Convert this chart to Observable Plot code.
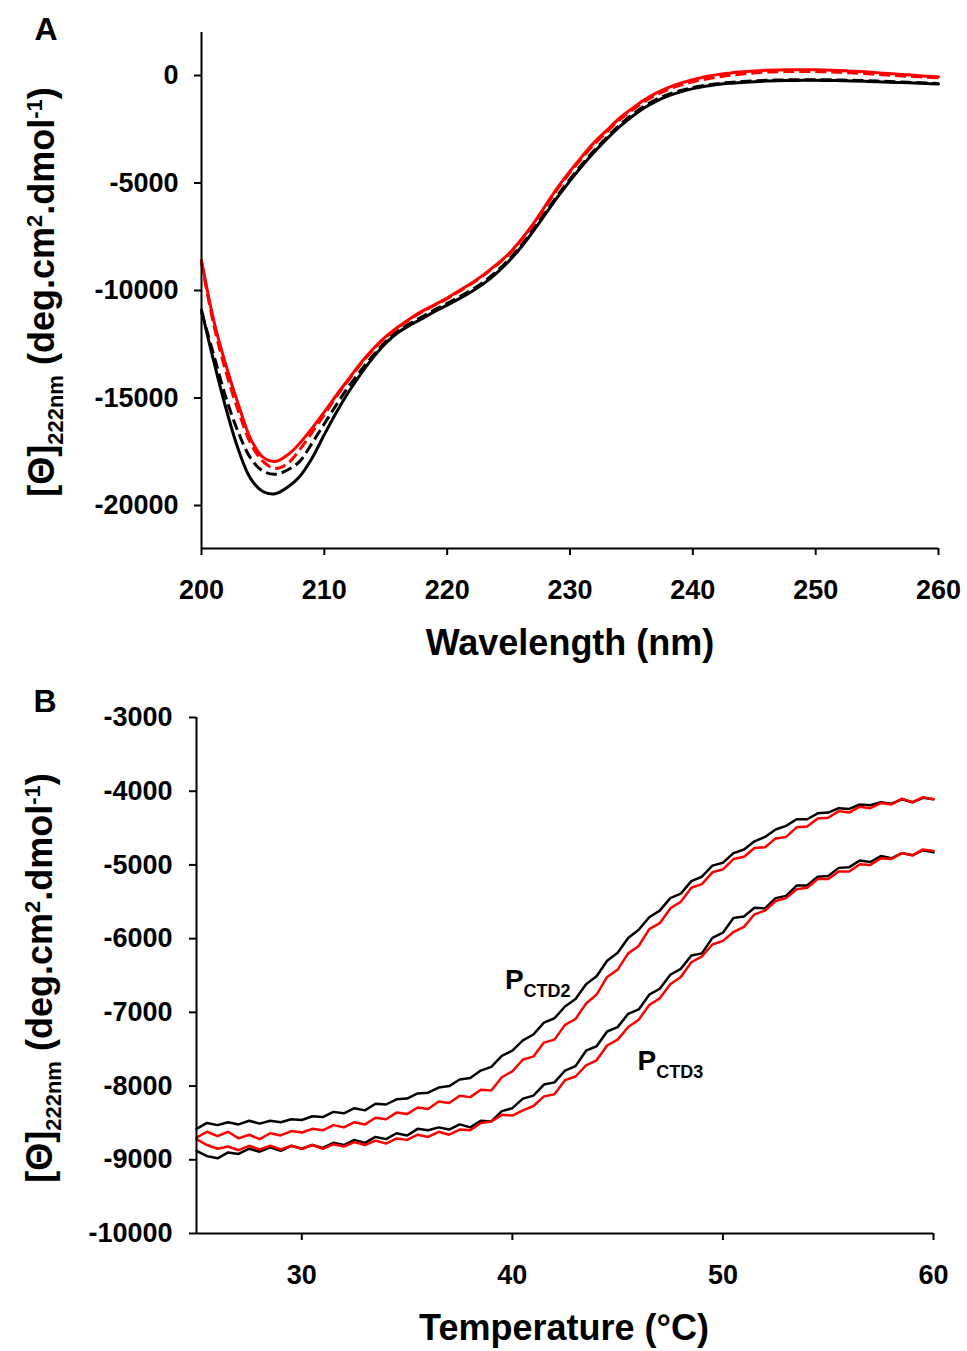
<!DOCTYPE html>
<html>
<head>
<meta charset="utf-8">
<script src="https://cdn.jsdelivr.net/npm/d3@7"></script>
<script src="https://cdn.jsdelivr.net/npm/@observablehq/plot@0.6"></script>
<style>
  body { margin: 0; background: #fff; }
  #wrap { position: relative; width: 967px; height: 1351px; background: #fff; }
  #panelA, #panelB { position: absolute; left: 0; }
  #panelA { top: 0; }
  #panelB { top: 680px; }
</style>
</head>
<body>
<div id="wrap"><div id="panelA"></div><div id="panelB"></div></div>
<script>
// ---------- Panel A data: CD spectra ----------
const wavelength = [200,201,202,203,204,205,206,207,208,209,210,211,212,213,214,215,216,217,218,219,220,
  221,222,223,224,225,226,227,228,229,230,231,232,233,234,235,236,237,238,239,240,
  241,242,243,244,245,246,247,248,249,250,251,252,253,254,255,256,257,258,259,260];
const blackSolid = [-10900,-13300,-15500,-17400,-18750,-19350,-19450,-19150,-18650,-17800,-16700,
  -15650,-14700,-13850,-13100,-12450,-11950,-11600,-11300,-10970,-10680,
  -10380,-10050,-9670,-9200,-8650,-8000,-7250,-6450,-5650,-4900,
  -4200,-3550,-2950,-2400,-1930,-1520,-1200,-950,-760,-610,
  -500,-420,-360,-320,-290,-260,-240,-230,-225,-225,
  -230,-240,-255,-270,-290,-310,-330,-350,-375,-400];
const blackDashed = [-11000,-13000,-15000,-16600,-17800,-18400,-18550,-18350,-17950,-17100,-16200,
  -15300,-14450,-13700,-13000,-12380,-11880,-11520,-11210,-10890,-10600,
  -10300,-9970,-9590,-9120,-8570,-7920,-7170,-6370,-5570,-4820,
  -4120,-3470,-2870,-2320,-1850,-1440,-1120,-880,-700,-560,
  -460,-380,-320,-280,-250,-225,-210,-200,-195,-195,
  -200,-210,-225,-240,-260,-280,-300,-325,-350,-375];
const redSolid = [-8600,-11400,-13500,-15300,-16900,-17750,-17950,-17650,-17100,-16400,-15650,
  -14850,-14100,-13350,-12700,-12150,-11700,-11300,-10950,-10650,-10350,
  -10000,-9650,-9250,-8800,-8300,-7650,-6900,-6050,-5200,-4450,
  -3750,-3100,-2550,-2000,-1560,-1150,-820,-560,-360,-200,
  -60,40,110,170,210,240,260,270,270,265,
  250,230,200,170,130,90,50,10,-30,-60];
const redDashed = [-8700,-11600,-13800,-15600,-17100,-17950,-18280,-18050,-17400,-16600,-15780,
  -14920,-14150,-13400,-12740,-12180,-11730,-11330,-10980,-10680,-10380,
  -10030,-9680,-9280,-8830,-8330,-7690,-6950,-6110,-5270,-4520,
  -3830,-3180,-2630,-2080,-1640,-1230,-900,-650,-450,-290,
  -170,-70,10,70,120,160,180,190,190,185,
  170,150,120,90,50,10,-20,-50,-80,-110];
const xTicksA = [200,210,220,230,240,250,260];
const yTicksA = [0,-5000,-10000,-15000,-20000];

// ---------- Panel B data: thermal melts at 222 nm ----------
const temperature = [25,25.5,26,26.5,27,27.5,28,28.5,29,29.5,30,30.5,31,31.5,32,32.5,33,33.5,34,34.5,
  35,35.5,36,36.5,37,37.5,38,38.5,39,39.5,40,40.5,41,41.5,42,42.5,43,43.5,44,44.5,
  45,45.5,46,46.5,47,47.5,48,48.5,49,49.5,50,50.5,51,51.5,52,52.5,53,53.5,54,54.5,
  55,55.5,56,56.5,57,57.5,58,58.5,59,59.5,60];
const ctd2Black = [-8580,-8500,-8530,-8490,-8520,-8470,-8510,-8470,-8490,-8450,-8460,-8410,-8420,-8350,-8370,-8300,-8330,-8240,-8250,-8180,
  -8170,-8100,-8090,-8020,-8000,-7910,-7890,-7790,-7740,-7590,-7520,-7380,-7300,-7140,-7080,-6920,-6820,-6620,-6510,-6300,
  -6190,-5990,-5880,-5710,-5620,-5450,-5390,-5220,-5160,-5010,-4970,-4840,-4790,-4680,-4620,-4520,-4470,-4380,-4380,-4300,
  -4290,-4230,-4240,-4180,-4190,-4150,-4170,-4110,-4150,-4090,-4110];
const ctd2Red = [-8700,-8620,-8680,-8620,-8710,-8660,-8720,-8640,-8670,-8610,-8630,-8580,-8600,-8530,-8560,-8490,-8520,-8430,-8450,-8360,
  -8380,-8290,-8310,-8210,-8230,-8130,-8150,-8050,-8060,-7880,-7800,-7640,-7600,-7410,-7370,-7170,-7090,-6880,-6760,-6520,
  -6420,-6200,-6100,-5870,-5790,-5590,-5500,-5310,-5260,-5100,-5060,-4920,-4890,-4770,-4760,-4640,-4620,-4490,-4480,-4370,
  -4360,-4270,-4290,-4210,-4230,-4160,-4180,-4100,-4150,-4080,-4110];
const ctd3Black = [-8880,-8950,-8980,-8900,-8920,-8850,-8890,-8830,-8880,-8810,-8850,-8800,-8840,-8770,-8800,-8730,-8770,-8690,-8720,-8640,
  -8670,-8580,-8600,-8560,-8590,-8520,-8560,-8470,-8480,-8340,-8300,-8170,-8130,-7980,-7950,-7790,-7730,-7520,-7460,-7260,
  -7200,-7020,-6960,-6760,-6680,-6490,-6410,-6230,-6200,-5990,-5920,-5720,-5700,-5580,-5590,-5450,-5420,-5280,-5280,-5160,
  -5150,-5040,-5030,-4940,-4960,-4880,-4910,-4840,-4870,-4800,-4830];
const ctd3Red = [-8720,-8800,-8850,-8820,-8870,-8810,-8860,-8810,-8860,-8810,-8850,-8800,-8850,-8790,-8820,-8760,-8800,-8740,-8780,-8710,
  -8730,-8660,-8690,-8620,-8660,-8590,-8600,-8500,-8480,-8390,-8400,-8330,-8270,-8140,-8110,-7920,-7870,-7720,-7650,-7450,
  -7370,-7200,-7100,-6900,-6810,-6620,-6520,-6320,-6240,-6080,-6030,-5910,-5840,-5670,-5620,-5490,-5450,-5330,-5310,-5190,
  -5190,-5090,-5090,-4990,-5000,-4910,-4920,-4840,-4870,-4790,-4810];
const xTicksB = [30,40,50,60];
const yTicksB = [-3000,-4000,-5000,-6000,-7000,-8000,-9000,-10000];
// curve labels: main letter, subscript, anchor (temperature, value)
const curveLabels = [
  {main: "P", sub: "CTD2", t: 39.67, v: -6690},
  {main: "P", sub: "CTD3", t: 45.97, v: -7790}
];

const FONT = "'Liberation Sans', Arial, Helvetica, sans-serif";
const fmt = d => String(d);

function yLabel(svg, x, y) {
  const t = svg.append("text")
    .attr("transform", `translate(${x},${y}) rotate(-90)`)
    .attr("text-anchor", "middle").attr("font-family", FONT)
    .attr("font-weight", "bold").attr("font-size", 36).attr("fill", "black");
  t.append("tspan").text("[\u0398]");
  t.append("tspan").attr("font-size", 22).attr("dy", 9).text("222nm");
  t.append("tspan").attr("dy", -9).text(" (deg.cm");
  t.append("tspan").attr("font-size", 22).attr("dy", -12).text("2");
  t.append("tspan").attr("dy", 12).text(".dmol");
  t.append("tspan").attr("font-size", 22).attr("dy", -12).text("-1");
  t.append("tspan").attr("dy", 12).text(")");
}
function plainText(svg, x, y, str, size, anchor) {
  svg.append("text").attr("x", x).attr("y", y).attr("text-anchor", anchor || "middle")
    .attr("font-family", FONT).attr("font-weight", "bold").attr("font-size", size)
    .attr("fill", "black").text(str);
}

// ---------- Panel A ----------
const chartA = Plot.plot({
  width: 967, height: 680,
  marginLeft: 201, marginRight: 29, marginTop: 32, marginBottom: 132,
  style: {fontFamily: FONT, fontWeight: "bold", fontSize: "27px", color: "black", background: "white", overflow: "visible"},
  x: {domain: [200, 260]},
  y: {domain: [-22000, 2000]},
  marks: [
    Plot.axisX({ticks: xTicksA, tickSize: 7, tickPadding: 24, tickFormat: fmt, label: null, fontSize: 27, strokeWidth: 2, fill: "black"}),
    Plot.axisY({ticks: yTicksA, tickSize: 7, tickPadding: 16, tickFormat: fmt, label: null, fontSize: 27, strokeWidth: 2, fill: "black"}),
    Plot.line(blackSolid, {x: wavelength, y: blackSolid, stroke: "black", strokeWidth: 3, curve: "catmull-rom"}),
    Plot.line(blackDashed, {x: wavelength, y: blackDashed, stroke: "black", strokeWidth: 3, strokeDasharray: "11,5", strokeLinecap: "butt", curve: "catmull-rom"}),
    Plot.line(redDashed, {x: wavelength, y: redDashed, stroke: "#ff0000", strokeWidth: 3, strokeDasharray: "11,5", strokeLinecap: "butt", curve: "catmull-rom"}),
    Plot.line(redSolid, {x: wavelength, y: redSolid, stroke: "#ff0000", strokeWidth: 3, curve: "catmull-rom"}),
    Plot.ruleX([200], {stroke: "black", strokeWidth: 2}),
    Plot.ruleY([-22000], {stroke: "black", strokeWidth: 2})
  ]
});
document.getElementById("panelA").appendChild(chartA);
const svgA = d3.select(chartA);
plainText(svgA, 46, 40, "A", 32);
yLabel(svgA, 54, 292);
plainText(svgA, 570, 655, "Wavelength (nm)", 36);

// ---------- Panel B ----------
const chartB = Plot.plot({
  width: 967, height: 671,
  marginLeft: 196, marginRight: 34, marginTop: 37, marginBottom: 118,
  style: {fontFamily: FONT, fontWeight: "bold", fontSize: "27px", color: "black", background: "white", overflow: "visible"},
  x: {domain: [25, 60]},
  y: {domain: [-10000, -3000]},
  marks: [
    Plot.axisX({ticks: xTicksB, tickSize: 7, tickPadding: 24, tickFormat: fmt, label: null, fontSize: 27, strokeWidth: 2, fill: "black"}),
    Plot.axisY({ticks: yTicksB, tickSize: 7, tickPadding: 17, tickFormat: fmt, label: null, fontSize: 27, strokeWidth: 2, fill: "black"}),
    Plot.line(ctd2Black, {x: temperature, y: ctd2Black, stroke: "black", strokeWidth: 2.5, strokeLinejoin: "miter"}),
    Plot.line(ctd3Black, {x: temperature, y: ctd3Black, stroke: "black", strokeWidth: 2.5, strokeLinejoin: "miter"}),
    Plot.line(ctd2Red, {x: temperature, y: ctd2Red, stroke: "#ff0000", strokeWidth: 2.5, strokeLinejoin: "miter"}),
    Plot.line(ctd3Red, {x: temperature, y: ctd3Red, stroke: "#ff0000", strokeWidth: 2.5, strokeLinejoin: "miter"}),
    Plot.ruleX([25], {stroke: "black", strokeWidth: 2}),
    Plot.ruleY([-10000], {stroke: "black", strokeWidth: 2})
  ]
});
document.getElementById("panelB").appendChild(chartB);
const svgB = d3.select(chartB);
plainText(svgB, 45, 32, "B", 32);
yLabel(svgB, 52, 298);
plainText(svgB, 564, 660, "Temperature (\u00B0C)", 36);
const xs = chartB.scale("x"), ys = chartB.scale("y");
for (const l of curveLabels) {
  const t = svgB.append("text")
    .attr("x", xs.apply(l.t)).attr("y", ys.apply(l.v))
    .attr("text-anchor", "start")
    .attr("font-family", FONT).attr("font-weight", "bold").attr("font-size", 28).attr("fill", "black");
  t.append("tspan").text(l.main);
  t.append("tspan").attr("font-size", 18).attr("dy", 8).text(l.sub);
}
</script>
</body>
</html>
